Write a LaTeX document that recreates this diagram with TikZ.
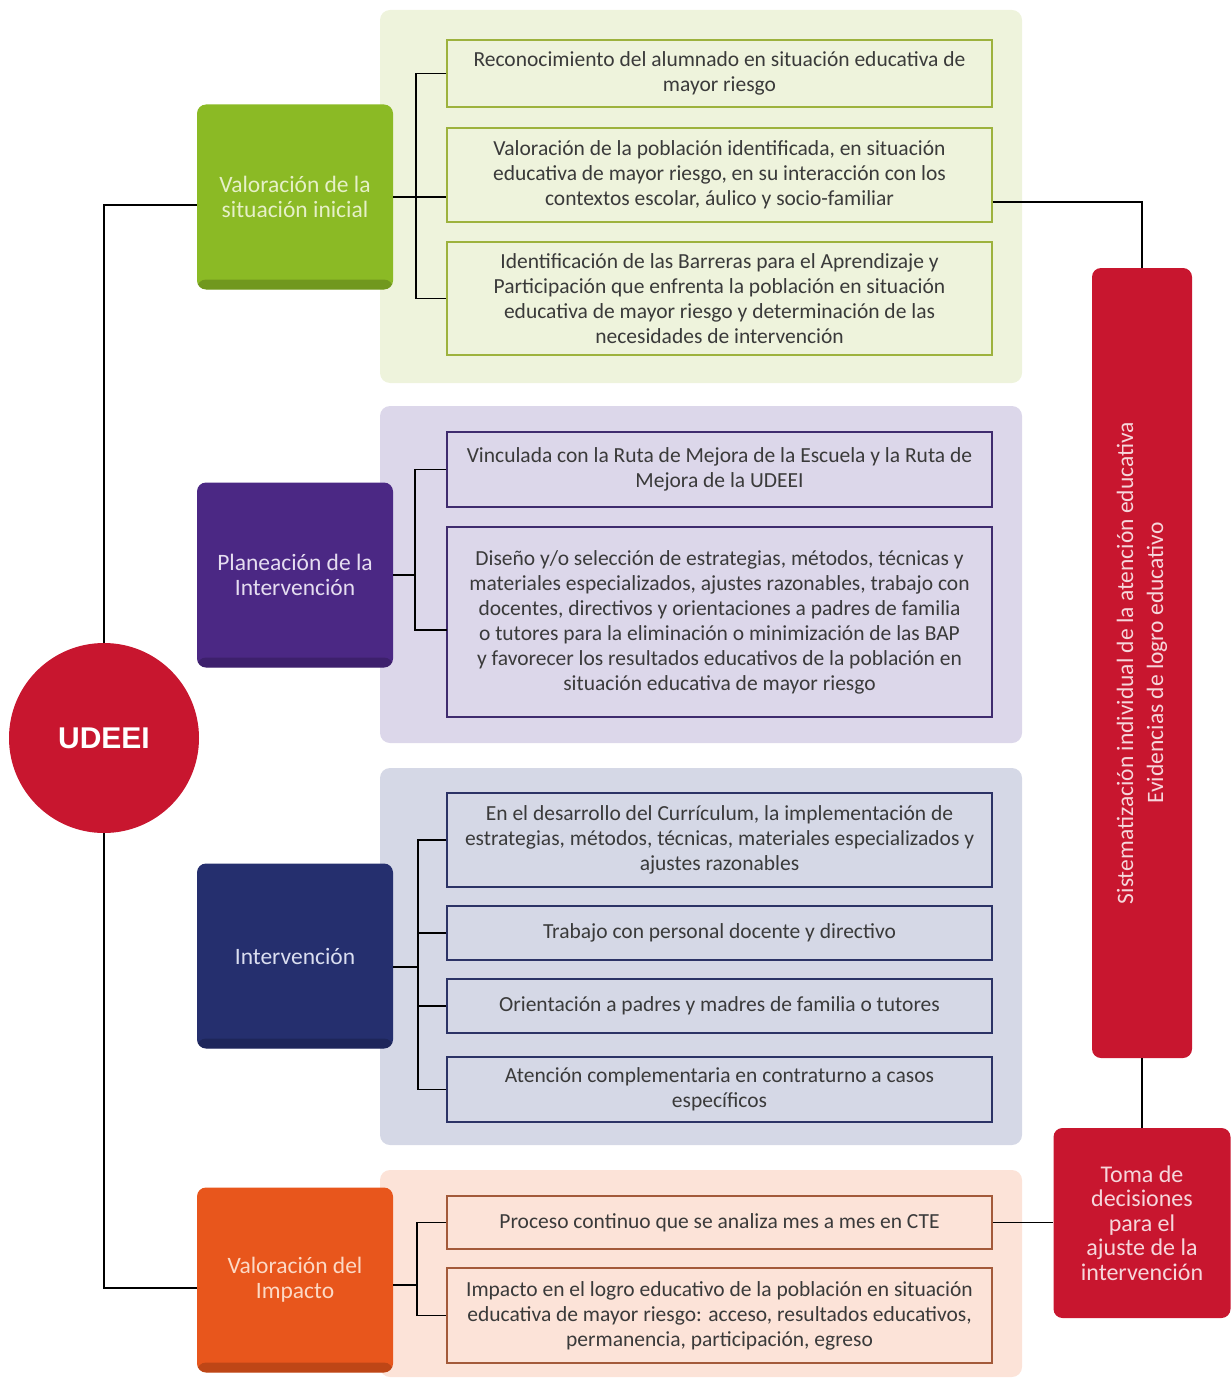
\documentclass[tikz,border=0pt]{standalone}
\usepackage{fontspec}
\setmainfont{Carlito}
\newfontfamily\udfont{Liberation Sans}
\usetikzlibrary{positioning}
\definecolor{grnpanel}{HTML}{EEF3DC}
\definecolor{grnline}{HTML}{9DB23D}
\definecolor{grnbox}{HTML}{8BBA25}
\definecolor{grntxt}{HTML}{E6F0C8}
\definecolor{purpanel}{HTML}{DCD7EA}
\definecolor{purline}{HTML}{3F2B6E}
\definecolor{purbox}{HTML}{4B2884}
\definecolor{purtxt}{HTML}{E5DDF0}
\definecolor{navpanel}{HTML}{D5D8E6}
\definecolor{navline}{HTML}{2C3366}
\definecolor{navbox}{HTML}{252F6E}
\definecolor{navtxt}{HTML}{DADEF0}
\definecolor{orgpanel}{HTML}{FCE3D8}
\definecolor{orgline}{HTML}{A35A3A}
\definecolor{orgbox}{HTML}{E8561C}
\definecolor{orgtxt}{HTML}{FCD9C5}
\definecolor{udred}{HTML}{C8162F}
\definecolor{redtxt}{HTML}{F6D6DB}
\definecolor{txtgray}{HTML}{3A3A3A}

\begin{document}
\begin{tikzpicture}[x=1pt,y=-1pt,
  every node/.style={font=\fontsize{21.5}{25}\selectfont},
  panel/.style={rounded corners=10pt},
  sub/.style={draw, line width=1.5pt, minimum width=545pt, align=center,
    inner sep=0pt, text=txtgray},
  catbox/.style={rounded corners=9pt, minimum width=196pt, minimum height=185pt,
    align=center, font=\fontsize{23.5}{25}\selectfont,
    path picture={\fill[black,opacity=.18]
      ([yshift=10pt]path picture bounding box.south west)
      rectangle (path picture bounding box.south east);}},
  redbox/.style={rounded corners=9pt, fill=udred, text=redtxt, align=center},
  link/.style={line width=1.5pt, black}]
  \useasboundingbox (0,0) rectangle (1231,1388);
  \fill[grnpanel,panel] (380,10) rectangle (1022,383);
  \fill[purpanel,panel] (380,406) rectangle (1022,743);
  \fill[navpanel,panel] (380,768) rectangle (1022,1145);
  \fill[orgpanel,panel] (380,1170) rectangle (1022,1377);

  \node[circle, fill=udred, minimum size=190pt, text=white,
    font=\udfont\bfseries\fontsize{30}{30}\selectfont] (udeei) at (104,738) {UDEEI};

  \node[catbox, fill=grnbox, text=grntxt] (gcat) at (295,197)
    {Valoración de la\\situación inicial};
  \node[catbox, fill=purbox, text=purtxt] (pcat) at (295,575)
    {Planeación de la\\Intervención};
  \node[catbox, fill=navbox, text=navtxt] (ncat) at (295,956)
    {Intervención};
  \node[catbox, fill=orgbox, text=orgtxt] (ocat) at (295,1280)
    {Valoración del\\Impacto};

  \node[sub, draw=grnline, fill=grnpanel, minimum height=67pt] (g1) at (719.5,73.5)
    {Reconocimiento del alumnado en situación educativa de\\mayor riesgo};
  \node[sub, draw=grnline, fill=grnpanel, minimum height=94pt] (g2) at (719.5,175)
    {Valoración de la población identificada, en situación\\educativa de mayor riesgo,  en su interacción con los\\contextos escolar, áulico y socio-familiar};
  \node[sub, draw=grnline, fill=grnpanel, minimum height=113pt] (g3) at (719.5,298.5)
    {Identificación de las Barreras para el Aprendizaje y\\Participación  que enfrenta la población en situación\\educativa de mayor riesgo y determinación de las\\necesidades de intervención};

  \node[sub, draw=purline, fill=purpanel, minimum height=75pt] (p1) at (719.5,469.5)
    {Vinculada con la Ruta de Mejora de la Escuela y la Ruta de\\Mejora de la UDEEI};
  \node[sub, draw=purline, fill=purpanel, minimum height=190pt] (p2) at (719.5,622)
    {Diseño y/o selección de estrategias,  métodos, técnicas y\\materiales especializados, ajustes razonables, trabajo con\\docentes, directivos y orientaciones a padres de familia\\o tutores para la eliminación o minimización de las BAP\\y favorecer los resultados educativos de la población en\\situación educativa de mayor riesgo};

  \node[sub, draw=navline, fill=navpanel, minimum height=94pt] (b1) at (719.5,840)
    {En el desarrollo del Currículum, la implementación de\\estrategias, métodos, técnicas, materiales especializados y\\ajustes razonables};
  \node[sub, draw=navline, fill=navpanel, minimum height=54pt] (b2) at (719.5,933)
    {Trabajo con personal docente y directivo};
  \node[sub, draw=navline, fill=navpanel, minimum height=54pt] (b3) at (719.5,1006)
    {Orientación a padres y madres de familia o tutores};
  \node[sub, draw=navline, fill=navpanel, minimum height=65pt] (b4) at (719.5,1089.5)
    {Atención complementaria en contraturno a casos\\específicos};

  \node[sub, draw=orgline, fill=orgpanel, minimum height=53pt] (o1) at (719.5,1222.5)
    {Proceso continuo que se analiza mes a mes en CTE};
  \node[sub, draw=orgline, fill=orgpanel, minimum height=95pt] (o2) at (719.5,1315.5)
    {Impacto en el logro educativo de la población en situación\\educativa de mayor riesgo: acceso, resultados educativos,\\permanencia, participación, egreso};

  \node[redbox, rotate=90, minimum width=790pt, minimum height=100pt,
    font=\fontsize{23.5}{30}\selectfont] (bar) at (1142,663)
    {Sistematización individual de la  atención educativa\\Evidencias de logro educativo};
  \node[redbox, minimum width=177pt, minimum height=190pt,
    font=\fontsize{24}{24.5}\selectfont] (toma) at (1142,1223)
    {Toma de\\decisiones\\para el\\ajuste de la\\intervención};

  \coordinate (tg) at (104,205);
  \coordinate (to) at (104,1288);
  \draw[link] (gcat.west |- tg) -- (tg) -- (udeei.north);
  \draw[link] (udeei.south) -- (to) -- (ocat.west |- to);

  \coordinate (gb) at (416,0);
  \draw[link] (g1.west) -- (g1.west -| gb) |- (g3.west);
  \draw[link] (gcat.east) -- (gcat.east -| g2.west);

  \coordinate (pb) at (415,0);
  \coordinate (p2in) at (447,630);
  \draw[link] (p1.west) -- (p1.west -| pb) |- (p2in);
  \draw[link] (pcat.east) -- (pcat.east -| pb);

  \coordinate (nb) at (418,967);
  \draw[link] (b1.west) -- (b1.west -| nb) |- (b4.west);
  \draw[link] (b2.west) -- (b2.west -| nb);
  \draw[link] (b3.west) -- (b3.west -| nb);
  \draw[link] (ncat.east |- nb) -- (nb);

  \coordinate (ob) at (417,1285);
  \draw[link] (o1.west) -- (o1.west -| ob) |- (o2.west);
  \draw[link] (ocat.east |- ob) -- (ob);

  \coordinate (gr) at (1142,202);
  \draw[link] (g2.east |- gr) -- (gr) -- (bar.east);
  \draw[link] (bar.west) -- (toma.north);
  \draw[link] (o1.east) -- (toma.west |- o1.east);
\end{tikzpicture}
\end{document}
